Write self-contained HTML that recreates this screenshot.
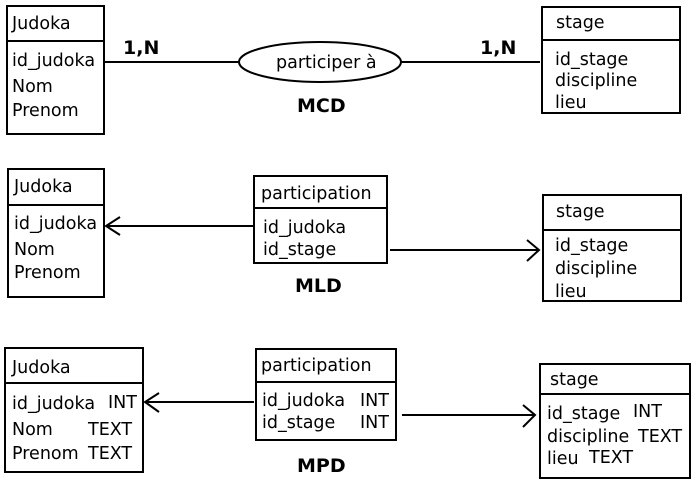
<!DOCTYPE html>
<html><head><style>body{margin:0;background:#fff}svg{display:block}text{font-family:"DejaVu Sans",sans-serif;font-size:17.5px;fill:#000}.b{font-weight:bold;font-size:19px}</style></head><body>
<svg width="697" height="483" viewBox="0 0 697 483" xmlns="http://www.w3.org/2000/svg">
<g fill="none" stroke="#000" stroke-width="2">
<rect x="7" y="6" width="97" height="128"/><line x1="7" y1="41" x2="104" y2="41"/>
<rect x="542" y="7" width="138" height="106"/><line x1="542" y1="40" x2="680" y2="40"/>
<ellipse cx="320" cy="62" rx="81" ry="20"/>
<line x1="104" y1="62" x2="239" y2="62"/><line x1="401" y1="62" x2="540" y2="62"/>
<rect x="8" y="169" width="96" height="128"/><line x1="8" y1="205" x2="104" y2="205"/>
<rect x="254" y="176" width="133" height="87"/><line x1="254" y1="208" x2="387" y2="208"/>
<rect x="543" y="195" width="138" height="106"/><line x1="543" y1="230" x2="681" y2="230"/>
<line x1="254" y1="226" x2="106" y2="226"/><polyline points="120,217 106,226 120,235"/>
<line x1="390" y1="250" x2="539" y2="250"/><polyline points="527,240 539,250 527,261"/>
<rect x="5" y="348" width="138" height="124"/><line x1="4" y1="383" x2="143" y2="383"/>
<rect x="256" y="349" width="140" height="91"/><line x1="256" y1="382" x2="396" y2="382"/>
<rect x="540" y="364" width="150" height="114"/><line x1="540" y1="394" x2="690" y2="394"/>
<line x1="254" y1="402" x2="145" y2="402"/><polyline points="159,393 145,402 159,412"/>
<line x1="402" y1="415" x2="535" y2="415"/><polyline points="523,405 535,415 523,427"/>
</g>
<text x="12" y="29">Judoka</text>
<text x="12" y="66">id_judoka</text><text x="12" y="92">Nom</text><text x="12" y="116">Prenom</text>
<text x="556" y="28">stage</text>
<text x="555" y="65">id_stage</text><text x="555" y="86">discipline</text><text x="555" y="108">lieu</text>
<text x="276" y="68">participer à</text>
<text class="b" x="123" y="54">1,N</text><text class="b" x="480" y="54">1,N</text>
<text class="b" x="297" y="112">MCD</text>
<text x="14" y="192">Judoka</text>
<text x="14" y="229">id_judoka</text><text x="14" y="255">Nom</text><text x="14" y="278">Prenom</text>
<text x="261" y="199">participation</text>
<text x="263" y="233">id_judoka</text><text x="263" y="255">id_stage</text>
<text x="556" y="217">stage</text>
<text x="555" y="251">id_stage</text><text x="555" y="274">discipline</text><text x="555" y="297">lieu</text>
<text class="b" x="295" y="292">MLD</text>
<text x="12" y="373">Judoka</text>
<text x="12" y="409">id_judoka</text><text x="108" y="408">INT</text>
<text x="12" y="435">Nom</text><text x="88" y="435">TEXT</text>
<text x="12" y="459">Prenom</text><text x="88" y="459">TEXT</text>
<text x="261" y="371">participation</text>
<text x="262" y="406">id_judoka</text><text x="360" y="406">INT</text>
<text x="262" y="428">id_stage</text><text x="360" y="428">INT</text>
<text x="550" y="385">stage</text>
<text x="547" y="419">id_stage</text><text x="633" y="417">INT</text>
<text x="547" y="442">discipline</text><text x="638" y="442">TEXT</text>
<text x="547" y="464">lieu</text><text x="589" y="463">TEXT</text>
<text class="b" x="297" y="472">MPD</text>
</svg>
</body></html>
